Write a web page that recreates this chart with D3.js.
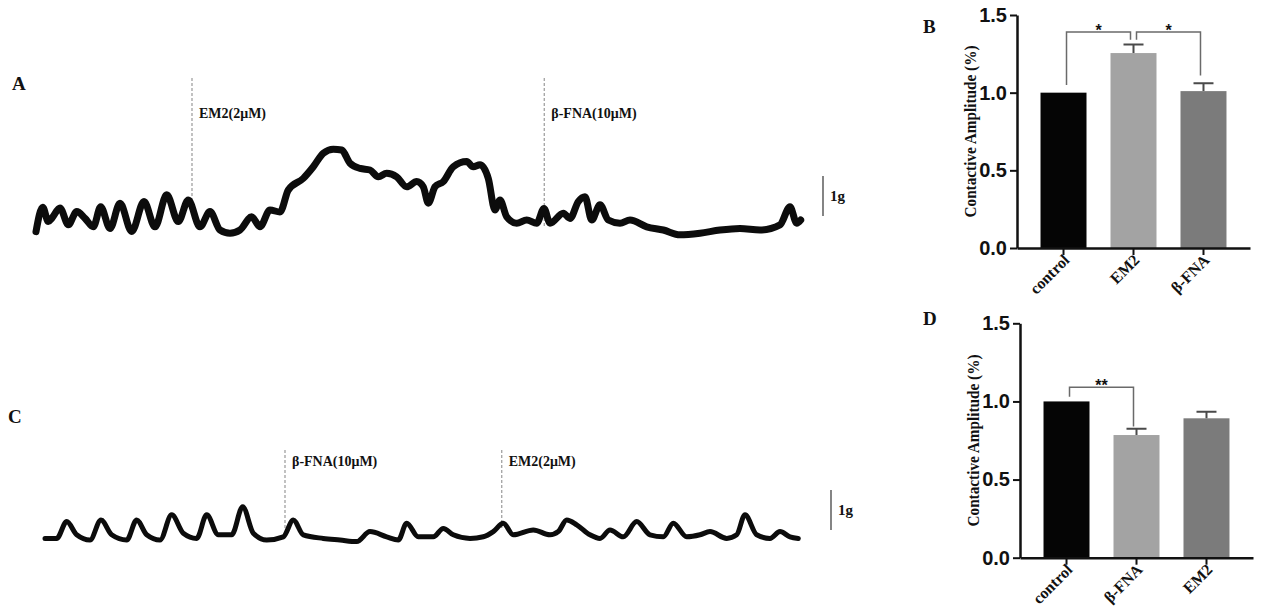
<!DOCTYPE html>
<html>
<head>
<meta charset="utf-8">
<script src="https://cdn.jsdelivr.net/npm/d3@7"></script>
<style>
  body { margin: 0; background: #fff; }
  svg text { font-family: "Liberation Serif", "Times New Roman", serif; font-weight: bold; fill: #111; }
  svg text.num { font-family: "Liberation Sans", Arial, sans-serif; }
</style>
</head>
<body>
<svg id="fig" width="1264" height="608"></svg>
<script>
// recordings: [time (min), tension (g)]
const traceA = [
  [0.1, 0.11], [0.77, 0.72], [1.33, 0.36], [1.7, 0.45], [2.5, 0.70], [3.33, 0.28],
  [4.17, 0.61], [5.0, 0.44], [5.83, 0.23], [6.57, 0.73], [7.5, 0.19], [8.5, 0.82],
  [9.67, 0.11], [10.9, 0.86], [12.0, 0.23], [13.17, 1.03], [14.33, 0.36], [15.33, 0.90],
  [16.5, 0.23], [17.5, 0.61], [18.5, 0.15], [19.5, 0.07], [20.5, 0.15], [21.67, 0.48],
  [22.5, 0.23], [23.5, 0.65], [24.5, 0.60], [25.33, 1.15], [26.83, 1.44], [27.83, 1.73],
  [28.83, 2.07], [29.83, 2.17], [30.67, 2.15], [31.5, 1.82], [32.5, 1.69], [33.5, 1.65],
  [34.33, 1.48], [35.17, 1.57], [36.17, 1.48], [37.17, 1.23], [38.17, 1.36], [38.83, 1.23],
  [39.33, 0.82], [40.0, 1.23], [40.83, 1.36], [41.83, 1.73], [43.17, 1.86], [43.83, 1.73],
  [44.5, 1.78], [45.33, 1.44], [46.0, 0.65], [46.5, 0.90], [47.17, 0.48], [48.17, 0.32],
  [49.17, 0.40], [50.17, 0.32], [50.9, 0.69], [51.5, 0.32], [52.83, 0.57], [53.5, 0.44],
  [54.33, 0.86], [55.0, 0.98], [55.67, 0.40], [56.5, 0.78], [57.33, 0.40], [58.5, 0.32],
  [59.5, 0.40], [61.17, 0.23], [62.83, 0.15], [64.5, 0.03], [66.5, 0.07], [68.5, 0.15],
  [70.5, 0.19], [72.5, 0.15], [74.5, 0.28], [75.5, 0.73], [76.17, 0.32], [76.57, 0.40]
];
const drugsA = [
  { t: 15.7, label: 'EM2(2μM)', end: 0.78 },
  { t: 50.93, label: 'β-FNA(10μM)', end: 0.2 }
];

const traceC = [
  [0, 0.19], [1.17, 0.19], [2.17, 0.61], [3.17, 0.28], [4.5, 0.15], [5.6, 0.65],
  [6.67, 0.28], [8.17, 0.15], [9.17, 0.65], [10.17, 0.28], [11.5, 0.15], [12.67, 0.78],
  [13.83, 0.32], [15.17, 0.19], [16.17, 0.78], [17.33, 0.28], [18.67, 0.28], [19.77, 0.98],
  [20.83, 0.32], [22.17, 0.15], [23.83, 0.23], [24.83, 0.65], [25.83, 0.28], [27.83, 0.19],
  [29.5, 0.15], [31.17, 0.11], [32.5, 0.36], [34.17, 0.23], [35.33, 0.15], [36.17, 0.57],
  [37.33, 0.23], [38.83, 0.23], [39.83, 0.44], [40.83, 0.28], [42.5, 0.19], [43.83, 0.23],
  [44.83, 0.36], [45.83, 0.57], [46.83, 0.28], [48.83, 0.40], [50.5, 0.28], [51.33, 0.36],
  [52.17, 0.65], [53.17, 0.53], [54.5, 0.28], [55.5, 0.19], [56.5, 0.40], [57.83, 0.23],
  [59.17, 0.61], [60.5, 0.28], [61.83, 0.23], [62.83, 0.57], [64.17, 0.23], [65.5, 0.28],
  [66.5, 0.36], [68.17, 0.19], [69.17, 0.28], [70.0, 0.78], [71.17, 0.28], [72.5, 0.19],
  [73.5, 0.36], [74.5, 0.23], [75.33, 0.19]
];
const drugsC = [
  { t: 24.0, label: 'β-FNA(10μM)', end: 0.4 },
  { t: 45.67, label: 'EM2(2μM)', end: 0.45 }
];

// bar panels
const groupsB = ['control', 'EM2', 'β-FNA'];
const meanB = [1.0, 1.255, 1.01];
const semB = [0, 0.055, 0.05];
const sigB = [
  { a: 0, b: 1, top: 1.39, legA: 1.05, legB: 1.34, label: '*' },
  { a: 1, b: 2, top: 1.39, legA: 1.34, legB: 1.11, label: '*' }
];

const groupsD = ['control', 'β-FNA', 'EM2'];
const meanD = [1.0, 0.785, 0.892];
const semD = [0, 0.04, 0.042];
const sigD = [
  { a: 0, b: 1, top: 1.09, legA: 1.03, legB: 0.84, label: '**' }
];

const barTicks = [0, 0.5, 1.0, 1.5];
const barColors = ['#050505', '#a3a3a3', '#7b7b7b'];

const svg = d3.select('#fig');

function drawTrace(cfg) {
  const x = d3.scaleLinear().domain(cfg.xDomain).range(cfg.xRange);
  const y = d3.scaleLinear().domain([0, 4]).range(cfg.yRange);
  const g = svg.append('g');

  const line = d3.line()
      .x((d) => x(d[0]))
      .y((d) => y(d[1]))
      .curve(d3.curveMonotoneX);

  // drug application markers
  g.selectAll('line.drug').data(cfg.drugs).join('line')
      .attr('x1', (d) => x(d.t)).attr('x2', (d) => x(d.t))
      .attr('y1', y(cfg.markerTop)).attr('y2', (d) => y(d.end))
      .attr('stroke', '#a8a8a8').attr('stroke-width', 1.4)
      .attr('stroke-dasharray', '3,2');
  g.selectAll('text.drug').data(cfg.drugs).join('text')
      .attr('x', (d) => x(d.t) + 7)
      .attr('y', y(cfg.labelAt))
      .attr('font-size', 14)
      .text((d) => d.label);

  g.append('path').datum(cfg.data)
      .attr('d', line).attr('fill', 'none')
      .attr('stroke', '#0c0c0c')
      .attr('stroke-width', cfg.width)
      .attr('stroke-linejoin', 'round')
      .attr('stroke-linecap', 'round');

  // 1 g scale bar
  const sb = cfg.scaleBar;
  g.append('line')
      .attr('x1', x(sb.t)).attr('x2', x(sb.t))
      .attr('y1', y(sb.g0)).attr('y2', y(sb.g0 + 1))
      .attr('stroke', '#333').attr('stroke-width', 1.2);
  g.append('text')
      .attr('x', x(sb.t) + 7)
      .attr('y', y(sb.g0 + 0.5))
      .attr('dy', '0.35em')
      .attr('font-size', 15)
      .text('1g');
}

function drawBars(cfg) {
  const x = d3.scaleBand().domain(cfg.groups).range(cfg.xRange)
      .paddingInner(0.343).paddingOuter(0.336);
  const y = d3.scaleLinear().domain([0, 1.5]).range(cfg.yRange);
  const g = svg.append('g');
  const cx = (i) => x(cfg.groups[i]) + x.bandwidth() / 2;

  g.selectAll('rect').data(cfg.groups).join('rect')
      .attr('x', (d) => x(d))
      .attr('y', (d, i) => y(cfg.mean[i]))
      .attr('width', x.bandwidth())
      .attr('height', (d, i) => y(0) - y(cfg.mean[i]))
      .attr('fill', (d, i) => barColors[i]);

  // error bars (upper only)
  cfg.groups.forEach((d, i) => {
    if (!cfg.sem[i]) return;
    const top = y(cfg.mean[i] + cfg.sem[i]);
    g.append('path')
        .attr('d', `M${cx(i)},${y(cfg.mean[i])}V${top}M${cx(i) - 10},${top}H${cx(i) + 10}`)
        .attr('fill', 'none').attr('stroke', '#4a4a4a').attr('stroke-width', 2);
  });

  // significance brackets
  cfg.sig.forEach((s) => {
    const xa = cx(s.a) + 3;
    const xb = cx(s.b) - 3;
    g.append('path')
        .attr('d', `M${xa},${y(s.legA)}V${y(s.top)}H${xb}V${y(s.legB)}`)
        .attr('fill', 'none').attr('stroke', '#6a6a6a').attr('stroke-width', 1.5);
    g.append('text').attr('class', 'num')
        .attr('x', (xa + xb) / 2).attr('y', y(s.top) + 4)
        .attr('text-anchor', 'middle').attr('font-size', 16)
        .attr('fill', '#333')
        .text(s.label);
  });

  const yAxis = g.append('g')
      .attr('transform', `translate(${cfg.xRange[0]},0)`)
      .call(d3.axisLeft(y).tickValues(barTicks).tickFormat(d3.format('.1f'))
          .tickSize(7).tickSizeOuter(0).tickPadding(3));
  yAxis.selectAll('text').attr('class', 'num').attr('font-size', 20).attr('fill', '#111');

  const xAxis = g.append('g')
      .attr('transform', `translate(0,${cfg.yRange[0]})`)
      .call(d3.axisBottom(x).tickSize(7).tickSizeOuter(0).tickFormat(''));

  [yAxis, xAxis].forEach((a) => {
    a.select('.domain').attr('stroke', '#111').attr('stroke-width', 2.5);
    a.selectAll('.tick line').attr('stroke', '#111').attr('stroke-width', 2);
  });

  g.selectAll('text.cat').data(cfg.groups).join('text')
      .attr('class', 'cat')
      .attr('text-anchor', 'end')
      .attr('font-size', 16)
      .attr('transform', (d) =>
        `translate(${x(d) + x.bandwidth() / 2 + 7},${cfg.yRange[0] + 13}) rotate(-45)`)
      .text((d) => d);

  g.append('text')
      .attr('transform', `translate(${cfg.xRange[0] - 41},${(cfg.yRange[0] + cfg.yRange[1]) / 2}) rotate(-90)`)
      .attr('text-anchor', 'middle')
      .attr('font-size', 17)
      .attr('textLength', 172)
      .attr('lengthAdjust', 'spacingAndGlyphs')
      .text('Contactive Amplitude (%)');
}

drawTrace({
  data: traceA, drugs: drugsA,
  xDomain: [0, 76.6], xRange: [35, 801], yRange: [236, 76],
  width: 7, markerTop: 3.95, labelAt: 2.95,
  scaleBar: { t: 78.8, g0: 0.5 }
});
drawTrace({
  data: traceC, drugs: drugsC,
  xDomain: [0, 75.3], xRange: [45, 798], yRange: [546, 386],
  width: 5, markerTop: 2.4, labelAt: 2.0,
  scaleBar: { t: 78.6, g0: 0.4 }
});

drawBars({ groups: groupsB, mean: meanB, sem: semB, sig: sigB,
  xRange: [1017, 1250], yRange: [248, 15] });
drawBars({ groups: groupsD, mean: meanD, sem: semD, sig: sigD,
  xRange: [1020, 1253], yRange: [557.7, 323.3] });

// panel letters
svg.selectAll('text.panel')
    .data([['A', 12, 90], ['B', 923, 33], ['C', 8, 423], ['D', 923, 325]])
    .join('text')
    .attr('class', 'panel')
    .attr('x', (d) => d[1]).attr('y', (d) => d[2])
    .attr('font-size', 19)
    .text((d) => d[0]);
</script>
</body>
</html>
